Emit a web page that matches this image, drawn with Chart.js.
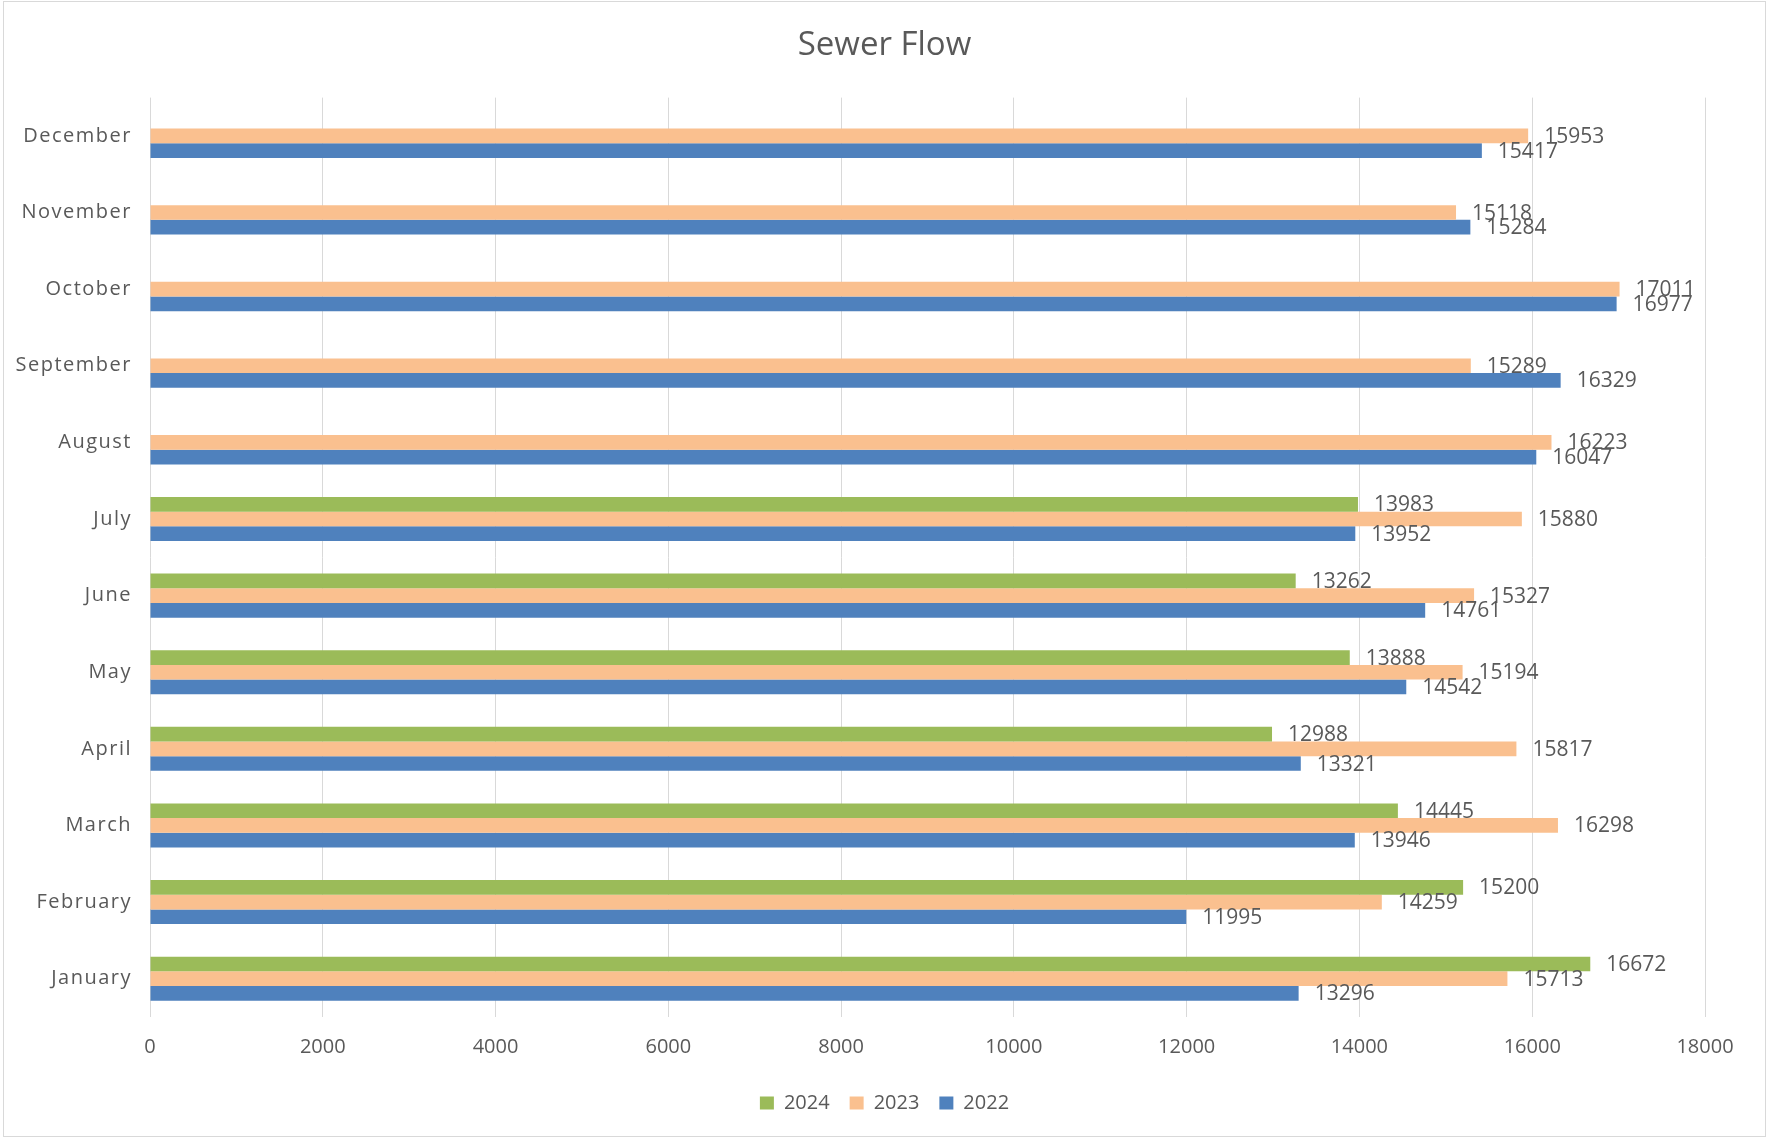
<!DOCTYPE html>
<html>
<head>
<meta charset="utf-8">
<title>Sewer Flow</title>
<script src="https://cdn.jsdelivr.net/npm/chart.js@4.4.1/dist/chart.umd.min.js"></script>
<style>
  html, body { margin: 0; padding: 0; background: #fff; }
  #wrap { width: 1769px; height: 1139px; position: relative; }
</style>
</head>
<body>
<div id="wrap"><canvas id="flowChart" width="1769" height="1139"></canvas></div>
<script>
// monthly sewer flow per year
const months = ['January', 'February', 'March', 'April', 'May', 'June',
                'July', 'August', 'September', 'October', 'November', 'December'];
const flow2022 = [13296, 11995, 13946, 13321, 14542, 14761, 13952, 16047, 16329, 16977, 15284, 15417];
const flow2023 = [15713, 14259, 16298, 15817, 15194, 15327, 15880, 16223, 15289, 17011, 15118, 15953];
const flow2024 = [16672, 15200, 14445, 12988, 13888, 13262, 13983, null, null, null, null, null];
const xTicks = [0, 2000, 4000, 6000, 8000, 10000, 12000, 14000, 16000, 18000];

const textGrey = '#595959';
const fontFamily = "'Open Sans', 'Liberation Sans', sans-serif";

// white background + thin outer frame
const framePlugin = {
    id: 'frame',
    beforeDraw(chart) {
        const c = chart.ctx;
        c.save();
        c.fillStyle = '#ffffff';
        c.fillRect(0, 0, chart.width, chart.height);
        c.strokeStyle = '#d9d9d9';
        c.lineWidth = 1;
        c.strokeRect(3.5, 1.5, 1762, 1135);
        c.restore();
    }
};

// value printed just past the end of each bar
const valueLabels = {
    id: 'valueLabels',
    afterDatasetsDraw(chart) {
        const c = chart.ctx;
        c.save();
        c.font = '21px ' + fontFamily;
        c.fillStyle = textGrey;
        c.textAlign = 'left';
        c.textBaseline = 'middle';
        chart.data.datasets.forEach((ds, i) => {
            const meta = chart.getDatasetMeta(i);
            if (meta.hidden) return;
            meta.data.forEach((bar, j) => {
                const v = ds.data[j];
                if (v === null || v === undefined) return;
                c.fillText(String(v), bar.x + 16, bar.y + 1);
            });
        });
        c.restore();
    }
};

// month names are drawn a little letter-spaced
function spaceMonthLabels(scale) {
    scale.width = 150;
    if (scale._spaced) return;
    const drawLabels = scale.drawLabels.bind(scale);
    scale.drawLabels = function (area) {
        const c = this.ctx;
        c.save();
        c.letterSpacing = '1.5px';
        drawLabels(area);
        c.restore();
    };
    scale._spaced = true;
}

const ctx = document.getElementById('flowChart').getContext('2d');
const flowChart = new Chart(ctx, {
    type: 'bar',
    data: {
        labels: months,
        datasets: [
            { label: '2024', data: flow2024, backgroundColor: '#9bbb59' },
            { label: '2023', data: flow2023, backgroundColor: '#fac08f' },
            { label: '2022', data: flow2022, backgroundColor: '#4f81bd' }
        ]
    },
    options: {
        indexAxis: 'y',
        responsive: false,
        animation: false,
        categoryPercentage: 0.575,
        barPercentage: 1.0,
        layout: { padding: { left: 0, right: 0, top: 0, bottom: 16 } },
        scales: {
            x: {
                min: 0,
                max: 18000,
                afterBuildTicks(scale) {
                    scale.ticks = xTicks.map(v => ({ value: v }));
                },
                afterFit(scale) { scale.height = 56; },
                grid: { color: '#d9d9d9', lineWidth: 1, drawTicks: false },
                border: { display: false },
                ticks: {
                    padding: 18,
                    color: textGrey,
                    font: { family: fontFamily, size: 20 },
                    callback: value => String(value)
                }
            },
            y: {
                reverse: true,
                afterFit: spaceMonthLabels,
                grid: { display: false, drawTicks: false },
                border: { display: false },
                ticks: {
                    padding: 18,
                    color: textGrey,
                    font: { family: fontFamily, size: 20 }
                }
            },
            // empty right margin so the plot stays off the right edge
            yRight: {
                type: 'category',
                labels: months,
                position: 'right',
                grid: { display: false, drawTicks: false },
                border: { display: false },
                ticks: { display: false },
                afterFit(scale) { scale.width = 64; }
            }
        },
        plugins: {
            title: {
                display: true,
                text: 'Sewer Flow',
                color: textGrey,
                font: { family: fontFamily, size: 33, weight: 'normal' },
                padding: { top: 26, bottom: 32 }
            },
            legend: {
                position: 'bottom',
                labels: {
                    boxWidth: 14,
                    boxHeight: 13,
                    padding: 20,
                    color: textGrey,
                    font: { family: fontFamily, size: 20 }
                }
            },
            tooltip: { enabled: false }
        }
    },
    plugins: [framePlugin, valueLabels]
});
</script>
</body>
</html>
